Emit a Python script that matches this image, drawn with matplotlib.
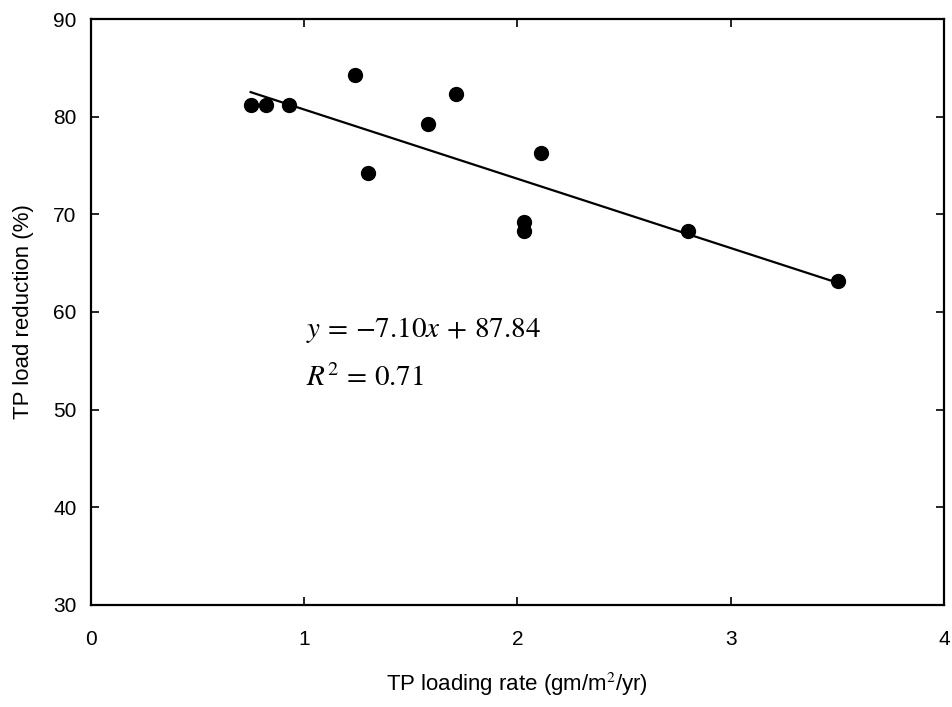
import matplotlib
matplotlib.use('Agg')
import matplotlib.pyplot as plt
import numpy as np

# dati
carico_tp = [0.75, 0.82, 0.93, 1.24, 1.30, 1.58, 1.71, 2.03, 2.03, 2.11, 2.80, 3.50]
riduzione_tp = [81.2, 81.2, 81.2, 84.3, 74.2, 79.3, 82.3, 69.2, 68.3, 76.3, 68.3, 63.2]
pendenza = -7.10
intercetta = 87.84
r2 = 0.71

plt.rcParams['font.family'] = ['Liberation Sans', 'DejaVu Sans']
plt.rcParams['mathtext.fontset'] = 'stix'

fig = plt.figure(figsize=(9.53, 7.07), dpi=100)
ax = fig.add_axes([0.095, 0.1443, 0.896, 0.8288])

ax.plot(carico_tp, riduzione_tp, 'o', color='black', markersize=10)
xr = np.array([min(carico_tp), max(carico_tp)])
ax.plot(xr, pendenza * xr + intercetta, color='black', linewidth=1.6)

# equazione della retta di regressione
ax.text(1.01, 57.45, r'$y\,=\,{-7.10}x\,+\,87.84$', fontsize=21, va='baseline')
ax.text(1.01, 52.44, r'$R^2\,=\,0.71$', fontsize=21, va='baseline')

ax.set_xlim(0, 4)
ax.set_ylim(30, 90)
ax.set_xticks([0, 1, 2, 3, 4])
ax.set_yticks([30, 40, 50, 60, 70, 80, 90])
ax.tick_params(direction='in', length=6, width=1.2, labelsize=15, top=True, right=True)
ax.tick_params(axis='x', pad=18)
ax.tick_params(axis='y', pad=10)
for s in ax.spines.values():
    s.set_linewidth(1.6)

ax.set_xlabel('TP loading rate (gm/m$^2$/yr)', fontsize=16, labelpad=16)
ax.set_ylabel('TP load reduction (%)', fontsize=16, labelpad=14)

fig.savefig('out.png', dpi=100)
